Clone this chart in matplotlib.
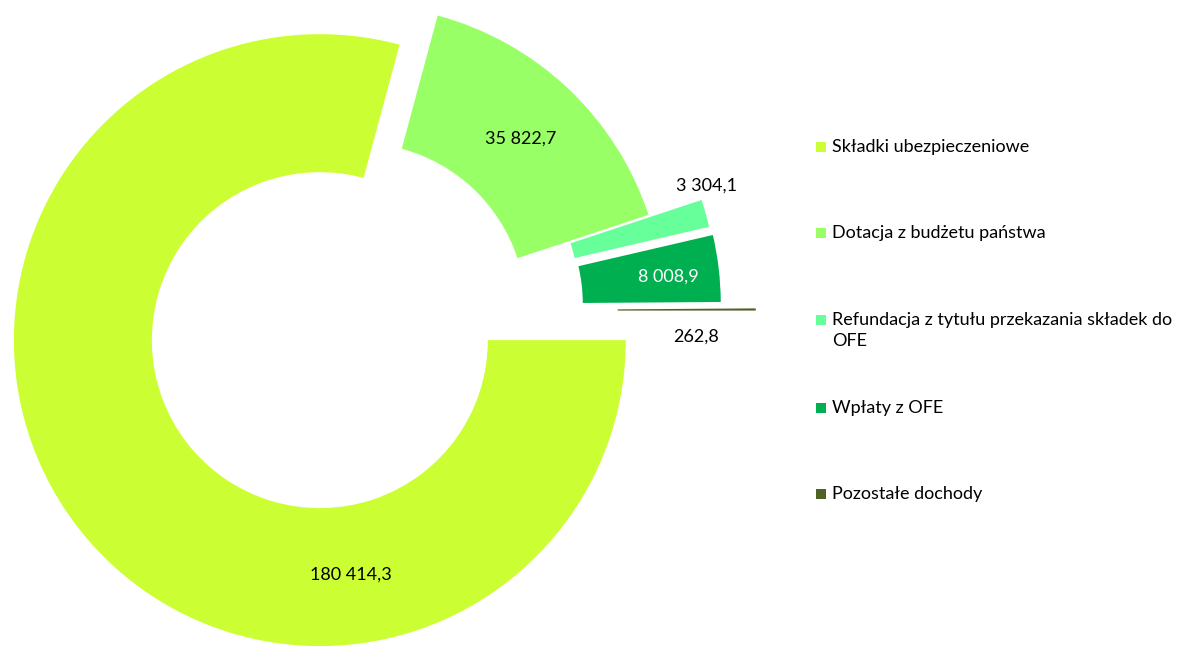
import matplotlib.pyplot as plt
import numpy as np
from matplotlib.patches import Rectangle

# Data
categories = ['Składki ubezpieczeniowe', 'Dotacja z budżetu państwa',
              'Refundacja z tytułu przekazania składek do\nOFE', 'Wpłaty z OFE',
              'Pozostałe dochody']
values = [180414.3, 35822.7, 3304.1, 8008.9, 262.8]
value_labels = ['180 414,3', '35 822,7', '3 304,1', '8 008,9', '262,8']

colors = ['#CCFF33', '#99FF66', '#66FF99', '#00B050', '#4F6228']
explode = [0.157, 0.0, 0.18, 0.187, 0.30]
# label placement relative to each (exploded) wedge centre: (radius, angle)
label_pos = [(0.772, -82.5), None, (1.03, 20.6), (0.833, 6.2), (0.81, -6)]
label_col = ['black', 'black', 'black', 'white', 'black']

plt.rcParams['font.family'] = ['Lato', 'DejaVu Sans']

fig = plt.figure(figsize=(11.78, 6.46), dpi=100)
ax = fig.add_axes([0, 0, 1, 1])

wedges, _ = ax.pie(values, colors=colors, startangle=0, counterclock=False,
                   explode=explode, radius=1,
                   wedgeprops=dict(width=0.451, edgecolor='none'))

for w, lab, pos, c in zip(wedges, value_labels, label_pos, label_col):
    cx, cy = w.center
    if pos is None:
        r, a = 0.775, (w.theta1 + w.theta2) / 2
    else:
        r, a = pos
    a = np.deg2rad(a)
    ax.text(cx + r * np.cos(a), cy + r * np.sin(a), lab, ha='center', va='center',
            fontsize=13, color=c)

ax.set_aspect('equal')
ax.set_xlim(-1.170, 2.680)
ax.set_ylim(-1.095, 1.016)
ax.axis('off')

# Legend
W, H = 1178, 646
rows = [147, 233, 320, 408, 494]
for lab, c, y in zip(categories, colors, rows):
    fig.add_artist(Rectangle((816 / W, 1 - (y + 5) / H), 10 / W, 10 / H,
                             transform=fig.transFigure, color=c, lw=0))
    fig.text(832 / W, 1 - (y - 8) / H, lab, ha='left', va='top', fontsize=13,
             linespacing=1.35)

fig.savefig('out.png', dpi=100)
